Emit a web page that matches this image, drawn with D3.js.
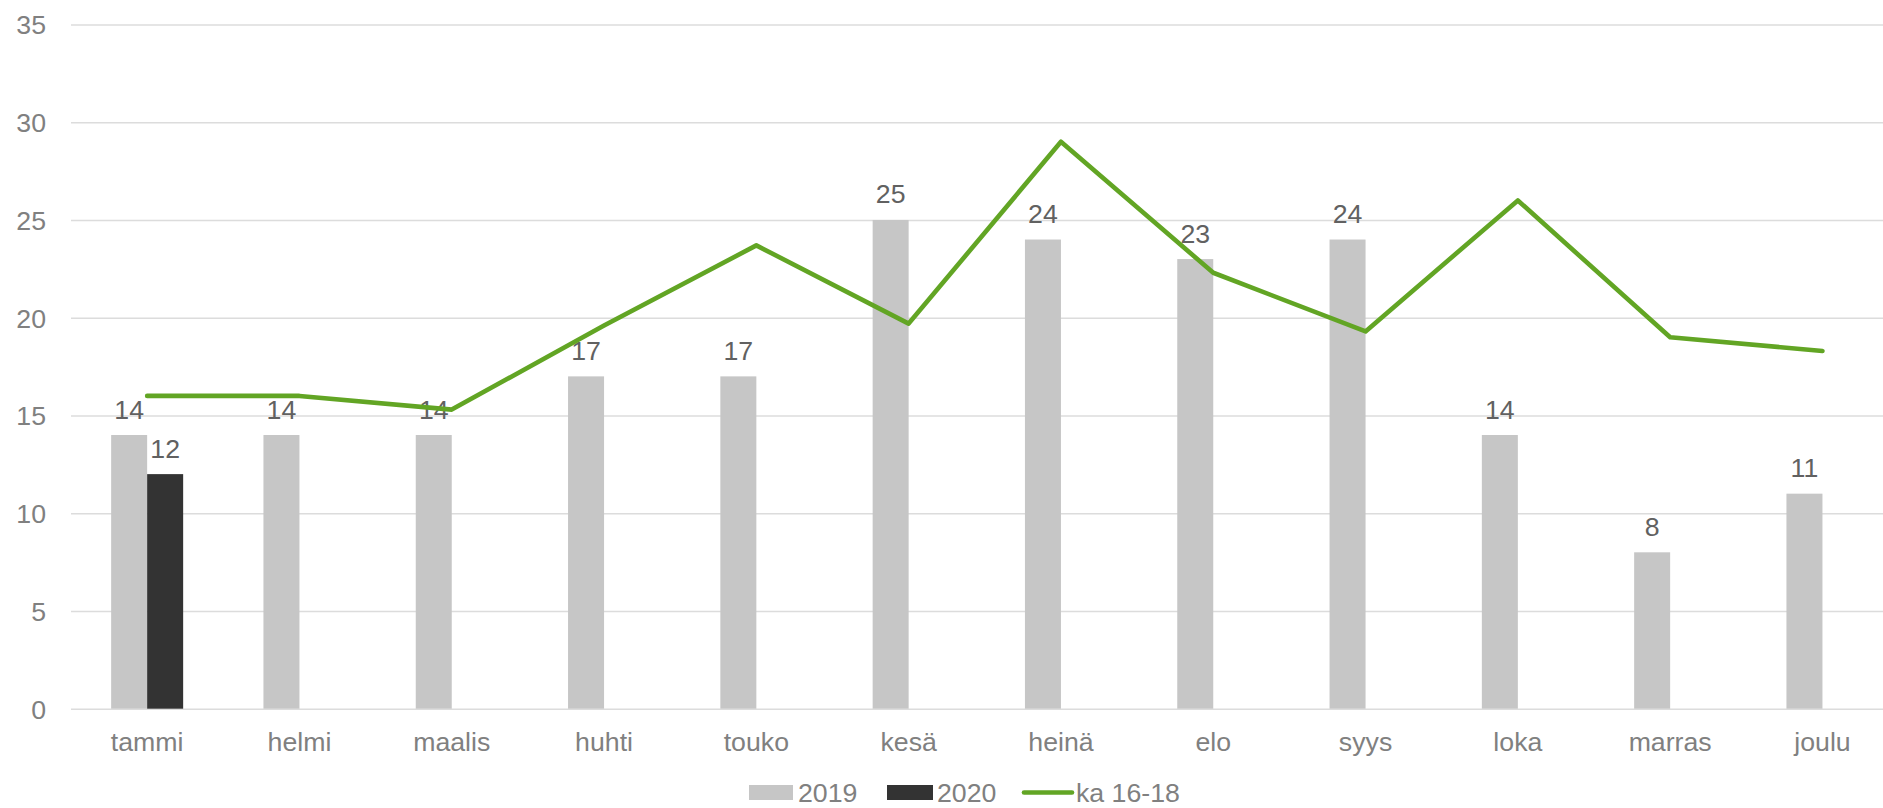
<!DOCTYPE html>
<html>
<head>
<meta charset="utf-8">
<script src="https://cdn.jsdelivr.net/npm/d3@7"></script>
<style>
  html, body { margin: 0; padding: 0; background: #fff; overflow: hidden; }
  svg { display: block; font-family: "Liberation Sans", Arial, sans-serif; }
</style>
</head>
<body>
<svg id="chart" width="1883" height="808"></svg>
<script>
const months = ["tammi","helmi","maalis","huhti","touko","kesä","heinä","elo","syys","loka","marras","joulu"];
const values2019 = [14,14,14,17,17,25,24,23,24,14,8,11];
const values2020 = [12,null,null,null,null,null,null,null,null,null,null,null];
const avg1618 = [16,16,15.3,19.6,23.7,19.7,29,22.3,19.3,26,19,18.3];
const yTicks = [0,5,10,15,20,25,30,35];
const seriesNames = ["2019","2020","ka 16-18"];
const colors = {"2019":"#c6c6c6","2020":"#333333","ka 16-18":"#62a524"};

const svg = d3.select("#chart");
const W = 1883, H = 808;
const plotLeft = 71, plotRight = 1898.6, plotTop = 24.5, plotBottom = 708.7;

const y = d3.scaleLinear().domain([0,35]).range([plotBottom, plotTop]);
const x0 = d3.scaleBand().domain(months).range([plotLeft, plotRight]).padding(0);
const bw = x0.bandwidth();
const x1 = d3.scaleBand().domain(["2019","2020"]).range([0, bw]).paddingInner(0).paddingOuter(1.115);

const fontSize = 26.7;

// gridlines
const grid = svg.append("g")
  .attr("transform", `translate(${plotLeft},0)`)
  .call(d3.axisLeft(y).tickValues(yTicks).tickSize(-(plotRight - plotLeft)).tickFormat(""));
grid.select(".domain").remove();
grid.selectAll("line").attr("stroke", "#dcdcdc").attr("stroke-width", 1.4);

// y tick labels
const yAxis = svg.append("g")
  .attr("transform", `translate(46,0)`)
  .call(d3.axisLeft(y).tickValues(yTicks).tickSize(0).tickPadding(0));
yAxis.select(".domain").remove();
yAxis.selectAll("text")
  .attr("font-size", fontSize).attr("fill", "#808080")
  .attr("font-family", "'Liberation Sans', Arial, sans-serif")
  .attr("text-anchor", "end").attr("dy", "0.35em");

// x labels
const xAxis = svg.append("g")
  .attr("transform", `translate(0,${plotBottom})`)
  .call(d3.axisBottom(x0).tickSize(0).tickPadding(0));
xAxis.select(".domain").remove();
xAxis.selectAll("text")
  .attr("font-size", fontSize).attr("fill", "#808080")
  .attr("font-family", "'Liberation Sans', Arial, sans-serif")
  .attr("dy", null).attr("y", 42);

// bars
const barData = [];
months.forEach((m, i) => {
  if (values2019[i] != null) barData.push({m, s: "2019", v: values2019[i]});
  if (values2020[i] != null) barData.push({m, s: "2020", v: values2020[i]});
});
svg.append("g").selectAll("rect").data(barData).join("rect")
  .attr("x", d => x0(d.m) + x1(d.s))
  .attr("width", x1.bandwidth())
  .attr("y", d => y(d.v))
  .attr("height", d => y(0) - y(d.v))
  .attr("fill", d => colors[d.s]);

// data labels
svg.append("g").selectAll("text").data(barData).join("text")
  .attr("x", d => x0(d.m) + x1(d.s) + x1.bandwidth() / 2)
  .attr("y", d => y(d.v) - 16.5)
  .attr("text-anchor", "middle")
  .attr("font-size", fontSize)
  .attr("fill", "#616161")
  .text(d => d.v);

// line
const line = d3.line()
  .x((d, i) => x0(months[i]) + bw / 2)
  .y(d => y(d));
svg.append("path").datum(avg1618)
  .attr("d", line)
  .attr("fill", "none")
  .attr("stroke", colors["ka 16-18"])
  .attr("stroke-width", 4.6)
  .attr("stroke-linejoin", "round")
  .attr("stroke-linecap", "round");

// legend
const legend = svg.append("g").attr("font-size", fontSize).attr("fill", "#808080");
const legItems = [
  {name: "2019", type: "rect", sx: 749, sw: 44, tx: 798},
  {name: "2020", type: "rect", sx: 887, sw: 46, tx: 937},
  {name: "ka 16-18", type: "line", sx: 1024, sw: 48, tx: 1076}
];
const legY = 792.5;
legItems.forEach(it => {
  if (it.type === "rect") {
    legend.append("rect").attr("x", it.sx).attr("y", legY - 7.5).attr("width", it.sw).attr("height", 15)
      .attr("fill", colors[it.name]);
  } else {
    legend.append("line").attr("x1", it.sx).attr("x2", it.sx + it.sw).attr("y1", legY).attr("y2", legY)
      .attr("stroke", colors[it.name]).attr("stroke-width", 4.6).attr("stroke-linecap", "round");
  }
  legend.append("text").attr("x", it.tx).attr("y", legY + 9.3).text(it.name);
});
</script>
</body>
</html>
